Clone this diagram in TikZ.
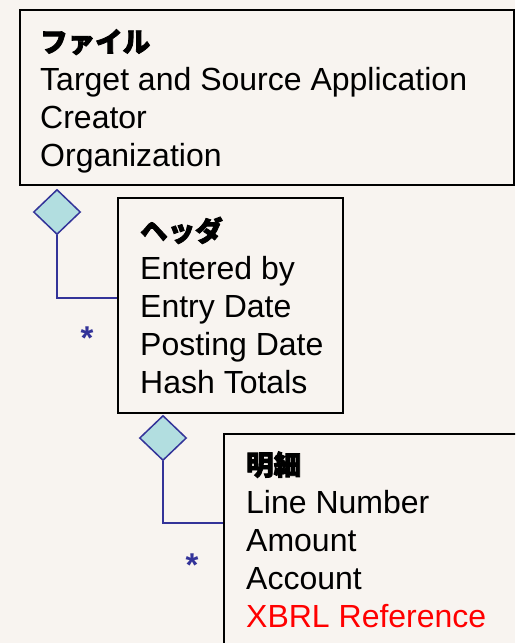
\documentclass[tikz,border=0pt]{standalone}
\usepackage{fontspec}
\setmainfont{Liberation Sans}
\newfontfamily\jpfont{Noto Sans CJK JP}[FakeBold=3]
\usetikzlibrary{shapes.geometric}
\definecolor{paper}{RGB}{248,244,240}
\definecolor{linkblue}{RGB}{51,51,153}
\definecolor{diafill}{RGB}{178,222,224}

\begin{document}
\begin{tikzpicture}[x=1pt, y=-1pt,
  every node/.style={inner sep=0pt},
  classbox/.style={draw=black, line width=2pt, anchor=north west},
  attrs/.style={anchor=base west, align=left, font=\fontsize{32}{38}\selectfont},
  agg/.style={diamond, draw=linkblue, fill=diafill, line width=1.5pt, minimum width=47pt, minimum height=45pt},
  link/.style={draw=linkblue, line width=1.5pt},
  mult/.style={anchor=base, text=linkblue, font=\bfseries\fontsize{33}{33}\selectfont}
]
\fill[paper] (0,0) rectangle (515,643);
\clip (0,0) rectangle (515,643);

% classes
\node[classbox, minimum width=494pt, minimum height=175pt] (file) at (19,9) {};
\node[classbox, minimum width=225pt, minimum height=215pt] (header) at (117,197) {};
\node[classbox, minimum width=320pt, minimum height=240pt] (detail) at (223,433) {};

% attribute lists (base = last line)
\node[attrs] (filetxt) at (40,166) {{\jpfont\bfseries\fontsize{27.5}{38}\selectfont ファイル}\\
  Target and Source Application\\Creator\\Organization};
\node[attrs] (headertxt) at (140,393) {{\jpfont\bfseries\fontsize{27.5}{38}\selectfont ヘッダ}\\
  Entered by\\Entry Date\\Posting Date\\Hash Totals};
\node[attrs] (detailtxt) at (246,627) {{\jpfont\bfseries\fontsize{27.5}{38}\selectfont 明細}\\
  Line Number\\Amount\\Account\\\textcolor{red}{XBRL Reference}};

% aggregation links
\node[agg] (fileagg) at (57,212) {};
\node[agg] (headeragg) at (163,438) {};
\draw[link] (fileagg.south) |- ([yshift=7.5pt]header.west);
\draw[link] (headeragg.south) |- ([yshift=31pt]detail.west);
\node[mult] (filemult) at (87,349) {*};
\node[mult] (headermult) at (192,576) {*};
\end{tikzpicture}
\end{document}
